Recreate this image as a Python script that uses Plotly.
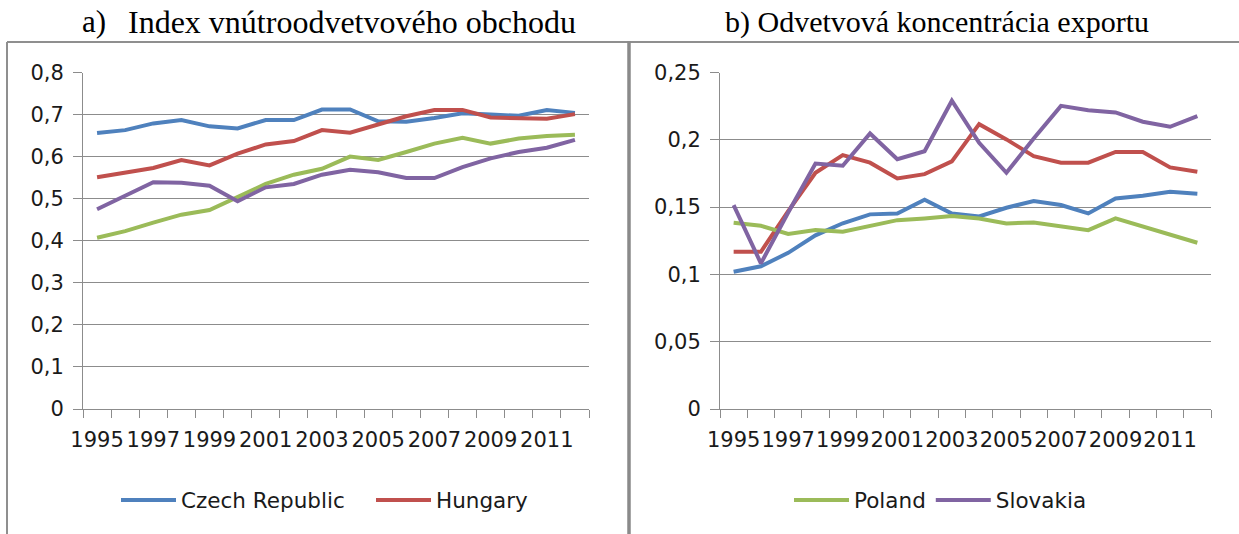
import plotly.graph_objects as go

# Years on the horizontal axis
years = list(range(1995, 2013))
year_labels = [str(y) for y in years[::2]]

# a) Index vnútroodvetvového obchodu
iit_czech = [0.656, 0.663, 0.679, 0.687, 0.672, 0.667, 0.687, 0.687, 0.712, 0.712,
             0.684, 0.683, 0.692, 0.703, 0.700, 0.697, 0.711, 0.704]
iit_hungary = [0.551, 0.563, 0.573, 0.592, 0.579, 0.607, 0.629, 0.637, 0.663, 0.657,
               0.677, 0.696, 0.711, 0.711, 0.693, 0.691, 0.690, 0.701]
iit_poland = [0.407, 0.423, 0.443, 0.462, 0.473, 0.503, 0.535, 0.557, 0.571, 0.600,
              0.592, 0.611, 0.631, 0.645, 0.631, 0.643, 0.649, 0.652]
iit_slovakia = [0.475, 0.507, 0.539, 0.538, 0.531, 0.494, 0.527, 0.535, 0.557, 0.569,
                0.563, 0.549, 0.549, 0.575, 0.596, 0.611, 0.621, 0.640]

# b) Odvetvová koncentrácia exportu
conc_czech = [0.102, 0.106, 0.116, 0.129, 0.138, 0.1446, 0.1453, 0.1555, 0.1453, 0.143,
              0.1495, 0.1545, 0.1515, 0.1453, 0.1564, 0.1584, 0.1614, 0.160]
conc_hungary = [0.1168, 0.1168, 0.147, 0.1755, 0.1886, 0.183, 0.1713, 0.1745, 0.184, 0.2116,
                0.2003, 0.1879, 0.183, 0.183, 0.191, 0.191, 0.1795, 0.1762]
conc_poland = [0.1384, 0.1361, 0.130, 0.1329, 0.1317, 0.1359, 0.1403, 0.1416, 0.1433, 0.1416,
               0.1379, 0.1386, 0.1354, 0.1329, 0.1416, 0.1354, 0.1297, 0.1235]
conc_slovakia = [0.1515, 0.1082, 0.146, 0.1824, 0.1807, 0.2047, 0.1856, 0.1915, 0.229, 0.1978,
                 0.1755, 0.201, 0.2252, 0.222, 0.2203, 0.2134, 0.2097, 0.2176]

left_ticks = [0, 0.1, 0.2, 0.3, 0.4, 0.5, 0.6, 0.7, 0.8]
left_ticktext = ["0", "0,1", "0,2", "0,3", "0,4", "0,5", "0,6", "0,7", "0,8"]
right_ticks = [0, 0.05, 0.1, 0.15, 0.2, 0.25]
right_ticktext = ["0", "0,05", "0,1", "0,15", "0,2", "0,25"]

title_a_label = "a)"
title_a_text = "Index vnútroodvetvového obchodu"
title_b_text = "b) Odvetvová koncentrácia exportu"

colors = {"Czech Republic": "#4F81BD", "Hungary": "#C0504D",
          "Poland": "#9BBB59", "Slovakia": "#8064A2"}

W, H = 1239, 534
FONT = "DejaVu Sans"
TEXT = "#1a1a1a"
GRID = "#8c8c8c"


def px(x):
    return x / W


def py(y):
    return 1 - y / H


fig = go.Figure()

left_series = [("Czech Republic", iit_czech, True), ("Hungary", iit_hungary, True),
               ("Poland", iit_poland, False), ("Slovakia", iit_slovakia, False)]
right_series = [("Czech Republic", conc_czech, False), ("Hungary", conc_hungary, False),
                ("Poland", conc_poland, True), ("Slovakia", conc_slovakia, True)]

for name, vals, show in left_series:
    fig.add_trace(go.Scatter(x=years, y=vals, name=name, mode="lines",
                             line=dict(color=colors[name], width=4),
                             showlegend=show, legend="legend",
                             xaxis="x", yaxis="y"))
for name, vals, show in right_series:
    fig.add_trace(go.Scatter(x=years, y=vals, name=name, mode="lines",
                             line=dict(color=colors[name], width=4),
                             showlegend=show, legend="legend2",
                             xaxis="x2", yaxis="y2"))

tick_font = dict(family=FONT, size=21, color=TEXT)


def xaxis_cfg(domain, anchor):
    return dict(domain=domain, anchor=anchor, range=[years[0] - 0.5, years[-1] + 0.5],
                tickmode="array", tickvals=years[::2], ticktext=year_labels,
                tickangle=0, ticks="", showgrid=False, zeroline=False,
                showline=True, linecolor=GRID, linewidth=1,
                tickfont=tick_font, ticklabelstandoff=12,
                minor=dict(tickmode="linear", tick0=years[0] - 0.5, dtick=1,
                           ticks="outside", ticklen=8, tickcolor=GRID, tickwidth=1,
                           showgrid=False))


def yaxis_cfg(domain, anchor, rng, tv, tt):
    return dict(domain=domain, anchor=anchor, range=rng, tickmode="array",
                tickvals=tv, ticktext=tt, ticks="outside", ticklen=9,
                tickcolor=GRID, tickwidth=1, showgrid=True, gridcolor=GRID,
                gridwidth=1, zeroline=False, showline=True, linecolor=GRID,
                linewidth=1, tickfont=tick_font, ticklabelstandoff=5)


legend_font = dict(family=FONT, size=21.5, color=TEXT)
ydom = [py(409), py(72.5)]
fig.update_layout(
    width=W, height=H,
    margin=dict(l=0, r=0, t=0, b=0, autoexpand=False),
    paper_bgcolor="white", plot_bgcolor="white",
    xaxis=xaxis_cfg([px(83), px(589)], "y"),
    yaxis=yaxis_cfg(ydom, "x", [0, 0.8], left_ticks, left_ticktext),
    xaxis2=xaxis_cfg([px(720), px(1211)], "y2"),
    yaxis2=yaxis_cfg(ydom, "x2", [0, 0.25], right_ticks, right_ticktext),
    legend=dict(orientation="h", x=px(116), xanchor="left", y=py(500), yanchor="middle",
                font=legend_font, itemwidth=55, entrywidth=185,
                bgcolor="rgba(0,0,0,0)"),
    legend2=dict(orientation="h", x=px(789), xanchor="left", y=py(500), yanchor="middle",
                 font=legend_font, itemwidth=55,
                 bgcolor="rgba(0,0,0,0)"),
    showlegend=True,
)

# Panel titles
serif = dict(family="Liberation Serif", size=31, color="black")
fig.add_annotation(text=title_a_label, x=px(80), y=py(22), xref="paper", yref="paper",
                   xanchor="left", yanchor="middle", showarrow=False, font=serif)
fig.add_annotation(text=title_a_text, x=px(352), y=py(22), xref="paper", yref="paper",
                   xanchor="center", yanchor="middle", showarrow=False,
                   font=dict(serif, size=32))
fig.add_annotation(text=title_b_text, x=px(937), y=py(22), xref="paper", yref="paper",
                   xanchor="center", yanchor="middle", showarrow=False,
                   font=dict(serif, size=30))

# Chart frames and the divider between panels
frame = dict(color="#8f8f8f", width=2)
fig.add_shape(type="line", xref="paper", yref="paper", x0=px(7), x1=px(629),
              y0=py(42), y1=py(42), line=frame)
fig.add_shape(type="line", xref="paper", yref="paper", x0=px(7), x1=px(7),
              y0=py(42), y1=py(534), line=frame)
fig.add_shape(type="line", xref="paper", yref="paper", x0=px(629), x1=px(1239),
              y0=py(42), y1=py(42), line=frame)
fig.add_shape(type="line", xref="paper", yref="paper", x0=px(629), x1=px(629),
              y0=py(41), y1=py(534), line=dict(color="#8a8a8a", width=3.5))

fig.write_html("out.html")
